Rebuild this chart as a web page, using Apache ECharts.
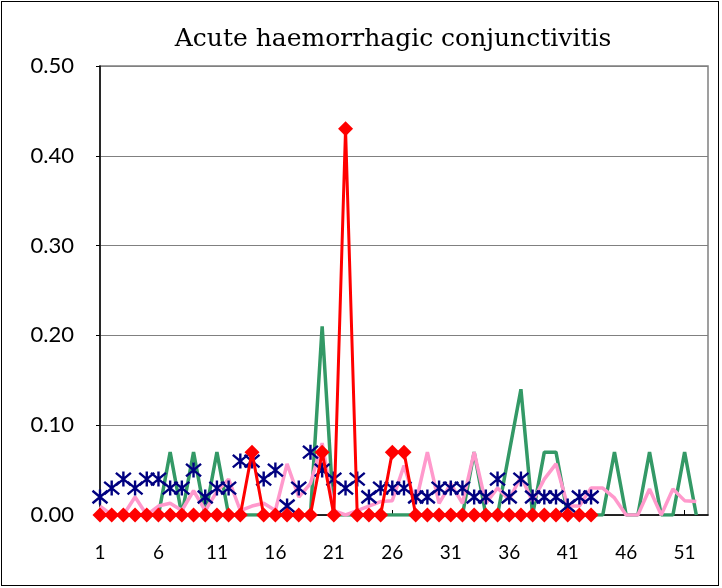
<!DOCTYPE html>
<html><head><meta charset="utf-8">
<script src="https://cdn.jsdelivr.net/npm/echarts@6/dist/echarts.min.js"></script>
<style>
html,body{margin:0;padding:0;background:#fff;}
#frame{position:absolute;left:1px;top:1px;width:716px;height:583px;border:1.5px solid #000;}
#c{position:absolute;left:0;top:0;width:722px;height:588px;}
</style></head>
<body><div id="frame"></div><div id="c"></div>
<script>
var weeks = [];
for (var i = 1; i <= 52; i++) weeks.push(String(i));
weeks.push(''); // trailing slot at right edge of plot
var titleText = 'Acute haemorrhagic conjunctivitis';
var yTicks = [0, 0.1, 0.2, 0.3, 0.4, 0.5];

var greenVals = [0,0,0,0,0,0,0.07,0,0.07,0,0.07,0,0,0,0,0,0,0,0,0.21,0,0,0,0,0,0,0,0,0,0,0,0,0.07,0,0,0.07,0.14,0,0.07,0.07,0,0,0,0,0.07,0,0,0.07,0,0,0.07,0];
var pinkVals = [0.01,0,0,0.02,0,0.01,0.013,0.005,0.027,0.005,0.026,0.04,0.005,0.01,0.013,0.005,0.057,0.02,0.035,0.08,0.005,0,0.005,0.01,0.015,0.016,0.055,0.013,0.07,0.013,0.035,0.013,0.07,0.013,0.03,0.017,0.043,0.015,0.04,0.057,0.01,0.01,0.03,0.03,0.019,0,0,0.029,0,0.029,0.016,0.015];
var navyVals = [0.02,0.03,0.04,0.03,0.04,0.04,0.03,0.03,0.05,0.02,0.03,0.03,0.06,0.06,0.04,0.05,0.01,0.03,0.07,0.05,0.04,0.03,0.04,0.02,0.03,0.03,0.03,0.02,0.02,0.03,0.03,0.03,0.02,0.02,0.04,0.02,0.04,0.02,0.02,0.02,0.01,0.02,0.02];
var redVals = [0,0,0,0,0,0,0,0,0,0,0,0,0,0.07,0,0,0,0,0,0.07,0,0.43,0,0,0,0.07,0.07,0,0,0,0,0,0,0,0,0,0,0,0,0,0,0,0];

var chart = echarts.init(document.getElementById('c'), null, {renderer:'canvas'});
var starPath = 'path://M0,0L10,10M10,0L0,10M5,-1L5,11';
chart.setOption({
  animation:false,
  title:{text:titleText,left:388,top:22,textAlign:'center',
    textStyle:{fontFamily:'DejaVu Serif',fontWeight:'normal',fontSize:25,color:'#000'}},
  grid:{left:100,right:14,top:66,bottom:73,show:true,borderColor:'#808080',borderWidth:1.5,backgroundColor:'transparent'},
  xAxis:{type:'category',data:weeks,boundaryGap:false,
    axisLine:{lineStyle:{color:'#000',width:1.5}},
    axisTick:{show:true,inside:true,interval:4,length:5,lineStyle:{color:'#000'}},
    axisLabel:{interval:4,color:'#000',fontFamily:'Lato',fontSize:19,margin:28}},
  yAxis:{type:'value',min:0,max:0.5,interval:0.1,
    axisLine:{show:true,lineStyle:{color:'#000',width:1.5}},
    axisTick:{show:true,length:4,lineStyle:{color:'#000'}},
    splitLine:{lineStyle:{color:'#808080',width:1}},
    axisLabel:{color:'#000',fontFamily:'Lato',fontSize:22,margin:26,formatter:function(v){return v.toFixed(2);}}},
  series:[
    {type:'line',data:greenVals,symbol:'none',lineStyle:{color:'#339966',width:3.5},z:2},
    {type:'line',data:pinkVals,symbol:'none',lineStyle:{color:'#ff99cc',width:3.5},z:3},
    {type:'line',data:navyVals,symbol:starPath,symbolSize:15,showSymbol:true,showAllSymbol:true,
      lineStyle:{width:0,opacity:0},itemStyle:{color:'none',borderColor:'#000080',borderWidth:2.4},z:4},
    {type:'line',data:redVals,symbol:'diamond',symbolSize:15,showAllSymbol:true,lineStyle:{color:'#ff0000',width:3},itemStyle:{color:'#ff0000'},z:5}
  ]
});
</script></body></html>
